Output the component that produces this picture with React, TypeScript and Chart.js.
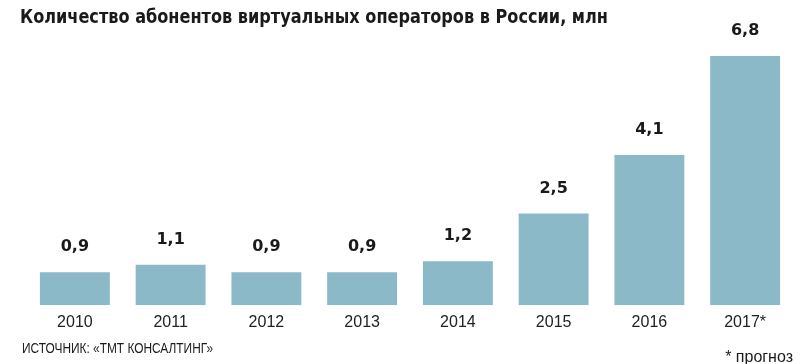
import React, { useEffect, useRef } from "react";
import { Chart, registerables } from "chart.js";

Chart.register(...registerables);

const categories = ["2010", "2011", "2012", "2013", "2014", "2015", "2016", "2017*"];
const subscribers = [0.9, 1.1, 0.9, 0.9, 1.2, 2.5, 4.1, 6.8];
const valueLabels = ["0,9", "1,1", "0,9", "0,9", "1,2", "2,5", "4,1", "6,8"];
const titleText = "Количество абонентов виртуальных операторов в России, млн";
const sourceText = "ИСТОЧНИК: «ТМТ КОНСАЛТИНГ»";
const noteText = "* прогноз";

const textPlugin = {
  id: "texts",
  afterDatasetsDraw(chart: any) {
    const ctx = chart.ctx;
    ctx.save();
    const meta = chart.getDatasetMeta(0);
    ctx.fillStyle = "#1a1a1a";
    ctx.font = "bold 16px 'DejaVu Sans'";
    ctx.textAlign = "center";
    ctx.textBaseline = "alphabetic";
    meta.data.forEach((bar: any, i: number) => {
      ctx.fillText(valueLabels[i], bar.x, bar.y - 21);
    });
    ctx.textAlign = "left";
    ctx.font = "bold 19px 'DejaVu Sans Condensed'";
    ctx.fillText(titleText, 20, 23, 588);
    ctx.font = "14px 'Liberation Sans'";
    ctx.fillText(sourceText, 22, 353, 191);
    ctx.textAlign = "right";
    ctx.font = "16px 'Liberation Sans'";
    ctx.fillText(noteText, 793, 362, 72);
    ctx.restore();
  },
};

export default function App() {
  const ref = useRef<HTMLCanvasElement>(null);
  useEffect(() => {
    if (!ref.current) return;
    const chart = new Chart(ref.current, {
      type: "bar",
      data: {
        labels: categories,
        datasets: [
          {
            data: subscribers,
            backgroundColor: "#8cb9c7",
            borderWidth: 0,
            barPercentage: 0.73,
            categoryPercentage: 1,
          },
        ],
      },
      options: {
        animation: false,
        responsive: false,
        maintainAspectRatio: false,
        layout: { padding: { left: 27, right: 13, top: 30.25, bottom: 23.6 } },
        plugins: { legend: { display: false }, tooltip: { enabled: false }, title: { display: false } },
        scales: {
          x: {
            grid: { display: false, drawTicks: false, tickLength: 0 },
            border: { display: false },
            ticks: { color: "#222", font: { family: "'Liberation Sans'", size: 16 }, padding: 8 },
          },
          y: {
            display: false,
            min: 0,
            max: 7.5,
          },
        },
      },
      plugins: [textPlugin],
    });
    return () => chart.destroy();
  }, []);
  return (
    <div style={{ position: "fixed", left: 0, top: 0, width: 806, height: 364, background: "#fff" }}>
      <canvas ref={ref} width={806} height={364} style={{ width: 806, height: 364 }} />
    </div>
  );
}
